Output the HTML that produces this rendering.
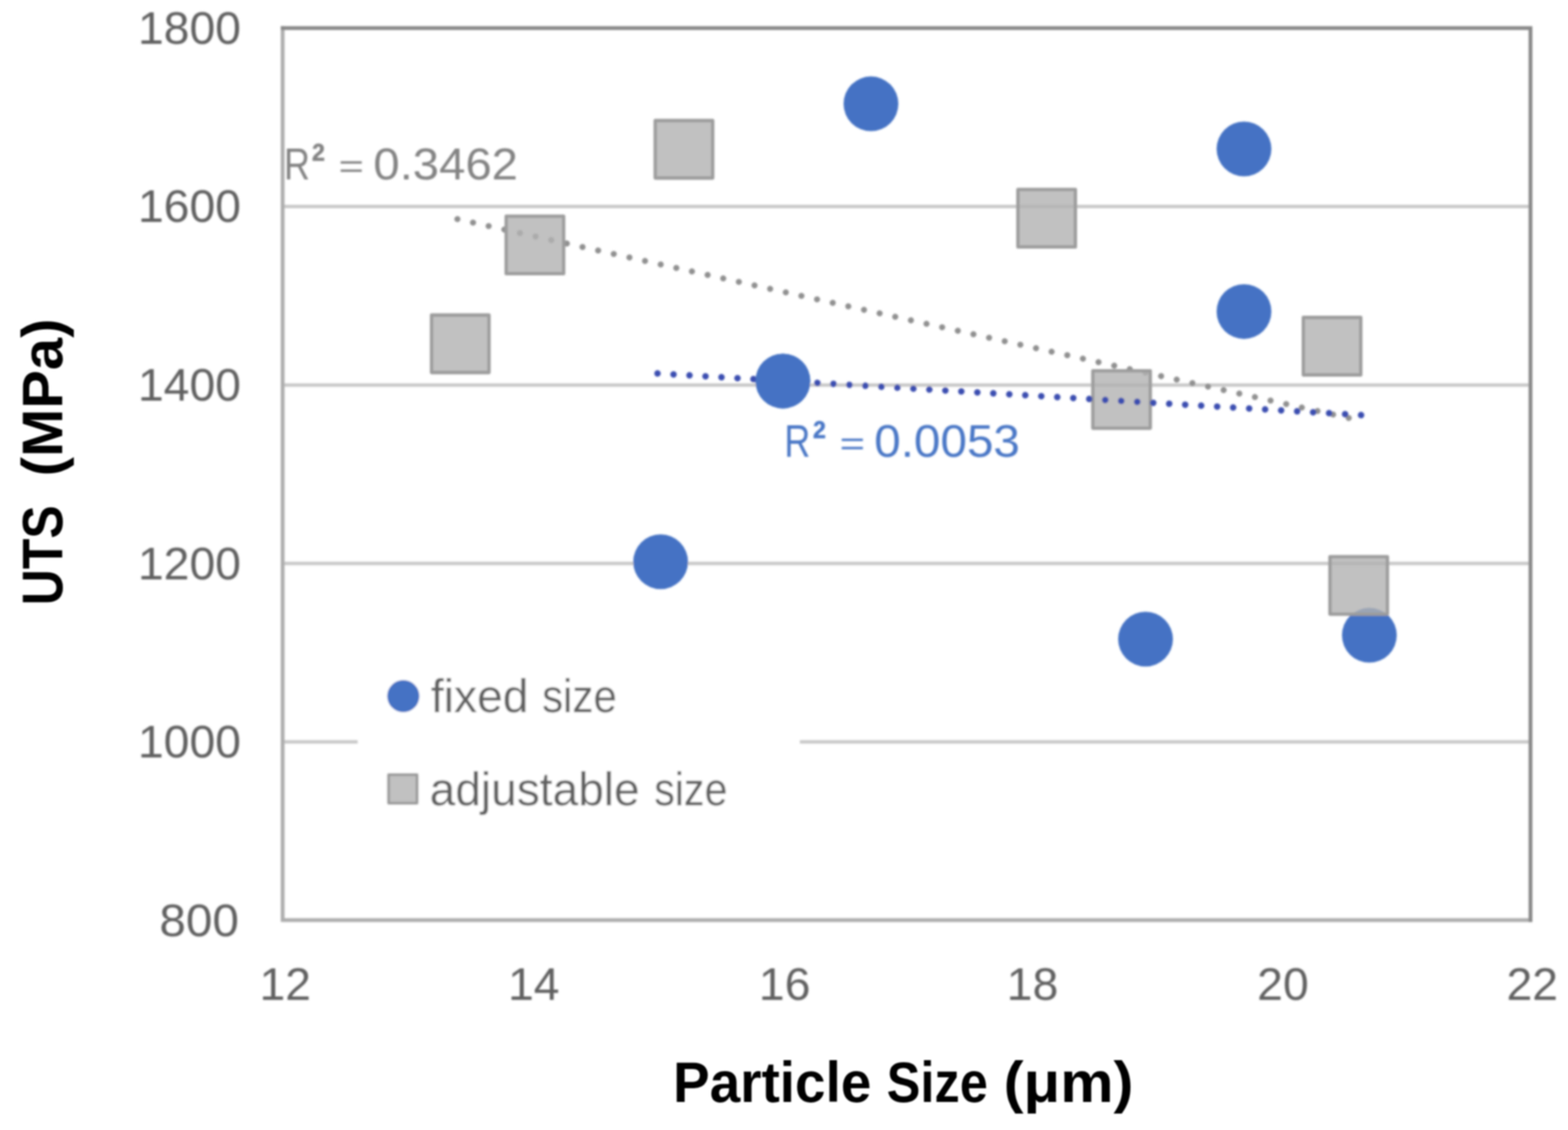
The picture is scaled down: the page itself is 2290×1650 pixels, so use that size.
<!DOCTYPE html>
<html lang="en"><head><meta charset="utf-8"><title>UTS vs Particle Size</title>
<style>html,body{margin:0;padding:0;background:#fff;}body{width:2290px;height:1650px;overflow:hidden;}svg{display:block;font-family:'Liberation Sans', sans-serif;}</style></head><body>
<svg width="2290" height="1650" viewBox="0 0 2290 1650" role="img" aria-label="Scatter chart of UTS (MPa) versus Particle Size (μm)">
<defs><filter id="soft" x="0" y="0" width="2290" height="1650" filterUnits="userSpaceOnUse"><feGaussianBlur stdDeviation="1.6"/></filter><filter id="soft2" x="0" y="0" width="2290" height="1650" filterUnits="userSpaceOnUse"><feGaussianBlur stdDeviation="0.9"/></filter></defs>
<rect width="2290" height="1650" fill="#fff"/>
<g filter="url(#soft)">
<!-- gridlines -->
<line x1="412.8" y1="301.5" x2="2235.2" y2="301.5" stroke="#c9c9c9" stroke-width="5.0"/>
<line x1="412.8" y1="562.2" x2="2235.2" y2="562.2" stroke="#c9c9c9" stroke-width="5.0"/>
<line x1="412.8" y1="822.7" x2="2235.2" y2="822.7" stroke="#c9c9c9" stroke-width="5.0"/>
<line x1="412.8" y1="1083.2" x2="2235.2" y2="1083.2" stroke="#c9c9c9" stroke-width="5.0"/>
<!-- legend background -->
<rect x="522.5" y="965" width="645.5" height="240" fill="#fff"/>
<!-- plot frame -->
<polyline points="412.8,41.1 412.8,1343.4 2235.2,1343.4" fill="none" stroke="#adadad" stroke-width="5.5" stroke-linejoin="miter" stroke-linecap="square"/>
<polyline points="412.8,41.1 2235.2,41.1 2235.2,1343.4" fill="none" stroke="#888888" stroke-width="5.5" stroke-linejoin="miter" stroke-linecap="square"/>
<!-- series: fixed size -->
<circle cx="1272" cy="151.6" r="40.0" fill="#4472c4"/>
<circle cx="1816.8" cy="217.5" r="40.0" fill="#4472c4"/>
<circle cx="1816.8" cy="454.9" r="40.0" fill="#4472c4"/>
<circle cx="1143.4" cy="556.4" r="40.0" fill="#4472c4"/>
<circle cx="964.8" cy="820.3" r="40.0" fill="#4472c4"/>
<circle cx="1673.0" cy="933.3" r="40.0" fill="#4472c4"/>
<circle cx="1999.9" cy="927.6" r="40.0" fill="#4472c4"/>
<!-- trendline: adjustable size -->
<line x1="668.0" y1="319.90" x2="1969.8" y2="610.35" stroke="#909090" stroke-width="8.9" stroke-linecap="round" stroke-dasharray="0.01 23.390"/>
<!-- series: adjustable size -->
<rect x="956.90" y="176.00" width="84.0" height="84.0" fill="#b1b1b1" fill-opacity="0.8" stroke="#9c9c9c" stroke-width="4.8" stroke-linejoin="round"/>
<rect x="739.20" y="315.70" width="84.0" height="84.0" fill="#b1b1b1" fill-opacity="0.8" stroke="#9c9c9c" stroke-width="4.8" stroke-linejoin="round"/>
<rect x="630.20" y="460.00" width="84.0" height="84.0" fill="#b1b1b1" fill-opacity="0.8" stroke="#9c9c9c" stroke-width="4.8" stroke-linejoin="round"/>
<rect x="1486.60" y="276.70" width="84.0" height="84.0" fill="#b1b1b1" fill-opacity="0.8" stroke="#9c9c9c" stroke-width="4.8" stroke-linejoin="round"/>
<rect x="1596.00" y="541.30" width="84.0" height="84.0" fill="#b1b1b1" fill-opacity="0.8" stroke="#9c9c9c" stroke-width="4.8" stroke-linejoin="round"/>
<rect x="1903.40" y="463.50" width="84.0" height="84.0" fill="#b1b1b1" fill-opacity="0.8" stroke="#9c9c9c" stroke-width="4.8" stroke-linejoin="round"/>
<rect x="1942.30" y="812.80" width="84.0" height="84.0" fill="#b1b1b1" fill-opacity="0.8" stroke="#9c9c9c" stroke-width="4.8" stroke-linejoin="round"/>
<!-- trendline: fixed size -->
<line x1="960.3" y1="545.30" x2="1987.8" y2="606.10" stroke="#3b4eb0" stroke-width="9.5" stroke-linecap="round" stroke-dasharray="0.01 23.383"/>
<circle cx="1143.4" cy="556.4" r="40.0" fill="#4472c4"/>
<!-- legend -->
<circle cx="589" cy="1016.5" r="23.5" fill="#4472c4"/>
<rect x="567.5" y="1131.2" width="41.6" height="41.6" fill="#b1b1b1" fill-opacity="0.8" stroke="#9c9c9c" stroke-width="4.2" stroke-linejoin="round"/>
<!-- y axis tick labels -->
<text transform="translate(0,64.24)" font-size="65.92" font-weight="normal" fill="#606060"><tspan x="201.42" textLength="150.56" lengthAdjust="spacingAndGlyphs">1800</tspan></text>
<text transform="translate(0,324.44)" font-size="65.92" font-weight="normal" fill="#606060"><tspan x="201.42" textLength="150.56" lengthAdjust="spacingAndGlyphs">1600</tspan></text>
<text transform="translate(0,585.14)" font-size="65.92" font-weight="normal" fill="#606060"><tspan x="201.42" textLength="150.56" lengthAdjust="spacingAndGlyphs">1400</tspan></text>
<text transform="translate(0,845.64)" font-size="65.92" font-weight="normal" fill="#606060"><tspan x="201.42" textLength="150.56" lengthAdjust="spacingAndGlyphs">1200</tspan></text>
<text transform="translate(0,1106.34)" font-size="65.92" font-weight="normal" fill="#606060"><tspan x="201.42" textLength="150.56" lengthAdjust="spacingAndGlyphs">1000</tspan></text>
<text transform="translate(0,1366.74)" font-size="65.92" font-weight="normal" fill="#606060"><tspan x="232.87" textLength="116.11" lengthAdjust="spacingAndGlyphs">800</tspan></text>
<!-- x axis tick labels -->
<text transform="translate(0,1459.74)" font-size="65.92" font-weight="normal" fill="#606060"><tspan x="378.99" textLength="75.28" lengthAdjust="spacingAndGlyphs">12</tspan></text>
<text transform="translate(0,1459.74)" font-size="65.92" font-weight="normal" fill="#606060"><tspan x="741.95" textLength="75.28" lengthAdjust="spacingAndGlyphs">14</tspan></text>
<text transform="translate(0,1459.74)" font-size="65.92" font-weight="normal" fill="#606060"><tspan x="1108.25" textLength="75.28" lengthAdjust="spacingAndGlyphs">16</tspan></text>
<text transform="translate(0,1459.74)" font-size="65.92" font-weight="normal" fill="#606060"><tspan x="1470.25" textLength="75.28" lengthAdjust="spacingAndGlyphs">18</tspan></text>
<text transform="translate(0,1459.74)" font-size="65.92" font-weight="normal" fill="#606060"><tspan x="1836.13" textLength="75.28" lengthAdjust="spacingAndGlyphs">20</tspan></text>
<text transform="translate(0,1459.74)" font-size="65.92" font-weight="normal" fill="#606060"><tspan x="2200.24" textLength="75.28" lengthAdjust="spacingAndGlyphs">22</tspan></text>
<!-- trendline R-squared labels -->
<text transform="translate(0,262.00)" font-size="65.43" font-weight="normal" fill="#838383"><tspan x="414.80" textLength="37.95" lengthAdjust="spacingAndGlyphs">R</tspan><tspan x="455.02" dy="-3.47" font-size="71.55" font-weight="bold" textLength="19.75" lengthAdjust="spacingAndGlyphs">²</tspan> <tspan x="494.64" dy="0.87" font-size="48.42" textLength="36.97" lengthAdjust="spacingAndGlyphs">=</tspan> <tspan x="545.24" dy="2.60" textLength="211.32" lengthAdjust="spacingAndGlyphs">0.3462</tspan></text>
<text transform="translate(0,666.80)" font-size="66.14" font-weight="normal" fill="#4a77c6"><tspan x="1145.60" textLength="37.95" lengthAdjust="spacingAndGlyphs">R</tspan><tspan x="1186.73" dy="-3.27" font-size="71.55" font-weight="bold" textLength="19.63" lengthAdjust="spacingAndGlyphs">²</tspan> <tspan x="1226.22" dy="0.67" font-size="48.95" textLength="37.09" lengthAdjust="spacingAndGlyphs">=</tspan> <tspan x="1276.82" dy="2.60" textLength="212.71" lengthAdjust="spacingAndGlyphs">0.0053</tspan></text>
<!-- legend labels -->
<text transform="translate(0,1039.60)" font-size="68.97" font-weight="normal" fill="#606060"><tspan x="629.19" textLength="142.77" lengthAdjust="spacingAndGlyphs">fixed</tspan> <tspan x="791.66" textLength="109.20" lengthAdjust="spacingAndGlyphs">size</tspan></text>
<text transform="translate(0,1175.60)" font-size="68.97" font-weight="normal" fill="#606060"><tspan x="627.47" textLength="306.70" lengthAdjust="spacingAndGlyphs">adjustable</tspan> <tspan x="955.39" textLength="107.01" lengthAdjust="spacingAndGlyphs">size</tspan></text>
</g>
<g filter="url(#soft2)">
<!-- axis titles -->
<text transform="translate(0,1609.20)" font-size="83.04" font-weight="bold" fill="#000"><tspan x="983.09" textLength="289.37" lengthAdjust="spacingAndGlyphs">Particle</tspan> <tspan x="1295.09" textLength="147.57" lengthAdjust="spacingAndGlyphs">Size</tspan> <tspan x="1465.72" textLength="189.63" lengthAdjust="spacingAndGlyphs">(μm)</tspan></text>
<text transform="translate(90.80,0) rotate(-90)" font-size="83.48" font-weight="bold" fill="#000"><tspan x="-883.67" textLength="145.68" lengthAdjust="spacingAndGlyphs">UTS</tspan> <tspan x="-695.53" textLength="230.35" lengthAdjust="spacingAndGlyphs">(MPa)</tspan></text>
</g></svg></body></html>
